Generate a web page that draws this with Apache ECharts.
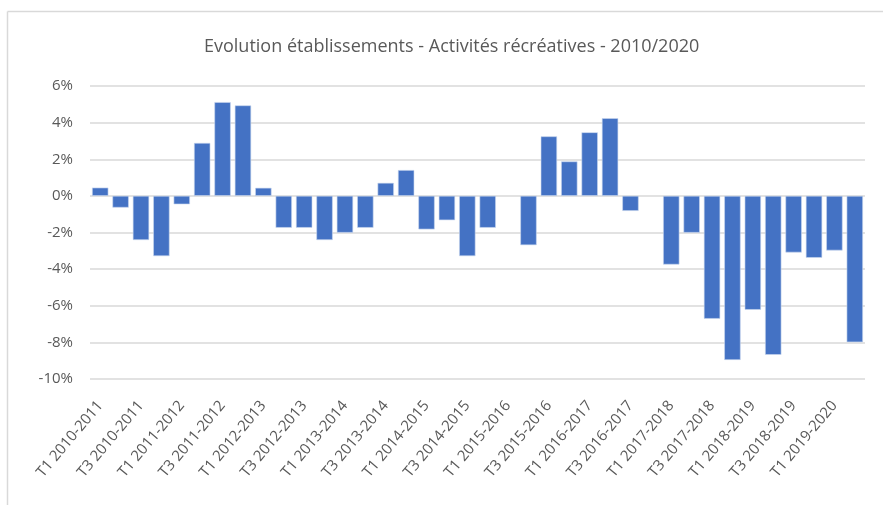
<!DOCTYPE html>
<html>
<head>
<meta charset="utf-8">
<script src="https://cdn.jsdelivr.net/npm/echarts@6/dist/echarts.min.js"></script>
<style>
html,body{margin:0;padding:0;background:#fff;}
#chart{width:883px;height:505px;}
</style>
</head>
<body>
<div id="chart"></div>
<script>
var titleText = 'Evolution établissements - Activités récréatives - 2010/2020';
var categories = [
  'T1 2010-2011','T2 2010-2011','T3 2010-2011','T4 2010-2011',
  'T1 2011-2012','T2 2011-2012','T3 2011-2012','T4 2011-2012',
  'T1 2012-2013','T2 2012-2013','T3 2012-2013','T4 2012-2013',
  'T1 2013-2014','T2 2013-2014','T3 2013-2014','T4 2013-2014',
  'T1 2014-2015','T2 2014-2015','T3 2014-2015','T4 2014-2015',
  'T1 2015-2016','T2 2015-2016','T3 2015-2016','T4 2015-2016',
  'T1 2016-2017','T2 2016-2017','T3 2016-2017','T4 2016-2017',
  'T1 2017-2018','T2 2017-2018','T3 2017-2018','T4 2017-2018',
  'T1 2018-2019','T2 2018-2019','T3 2018-2019','T4 2018-2019',
  'T1 2019-2020','T2 2019-2020'
];
var values = [
  0.45, -0.64, -2.41, -3.29,
  -0.46, 2.89, 5.12, 4.94,
  0.44, -1.74, -1.74, -2.41,
  -2.01, -1.74, 0.71, 1.41,
  -1.83, -1.33, -3.29, -1.74,
  null, -2.69, 3.25, 1.88,
  3.47, 4.24, -0.82, null,
  -3.75, -2.01, -6.71, -8.96,
  -6.22, -8.68, -3.09, -3.38,
  -2.98, -7.99
];
var yMin = -10, yMax = 6, yStep = 2;

var chart = echarts.init(document.getElementById('chart'), null, {renderer:'canvas'});
var font = '"Open Sans", "Noto Sans", sans-serif';
chart.setOption({
  animation: false,
  backgroundColor: '#ffffff',
  title: {
    text: titleText,
    left: 199,
    top: 33,
    textStyle: {fontFamily: font, fontSize: 18, fontWeight: 'normal', color: '#595959'}
  },
  graphic: [
    {type:'line', shape:{x1:7.5,y1:11.5,x2:883,y2:11.5}, style:{stroke:'#d9d9d9', lineWidth:1.5}, silent:true},
    {type:'line', shape:{x1:7.5,y1:11.5,x2:7.5,y2:505}, style:{stroke:'#d9d9d9', lineWidth:1.5}, silent:true}
  ],
  grid: {left: 90, right: 18, top: 86, bottom: 126, containLabel: false},
  xAxis: {
    type: 'category',
    data: categories,
    axisLine: {show: false, onZero: false},
    axisTick: {show: false},
    axisLabel: {
      interval: 1,
      rotate: 50,
      margin: 24,
      fontFamily: font,
      fontSize: 15,
      color: '#595959'
    }
  },
  yAxis: {
    type: 'value',
    min: yMin, max: yMax, interval: yStep,
    axisLine: {show: false},
    axisTick: {show: false},
    axisLabel: {formatter: '{value}%', fontFamily: font, fontSize: 15, color: '#595959', margin: 17},
    splitLine: {lineStyle: {color: '#d9d9d9', width: 1.5}}
  },
  series: [{
    type: 'bar',
    data: values,
    barWidth: '80%',
    itemStyle: {color: '#4472c4', borderColor: '#c9d6ee', borderWidth: 0.6}
  }]
});
</script>
</body>
</html>
